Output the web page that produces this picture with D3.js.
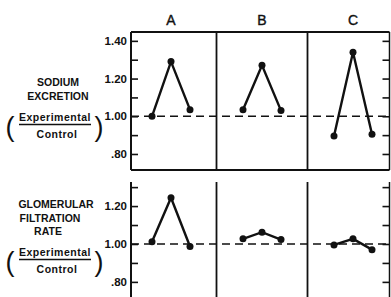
<!DOCTYPE html>
<html>
<head>
  <meta charset="UTF-8">
  <style>
    body { margin: 0; background: #fff; }
    svg { display: block; }
    text { font-family: "Liberation Sans", Arial, sans-serif; fill: #111; }
  </style>
</head>
<body>
<svg width="391" height="297"></svg>
<script src="https://cdnjs.cloudflare.com/ajax/libs/d3/7.8.5/d3.min.js"></script>
<script>
// groups across the top, three periods inside each group
let groups = ["A", "B", "C"];
let periods = ["control", "experimental", "recovery"];

// ratios experimental / control, one row per group
let sodium = [
  [1.00, 1.29, 1.035],
  [1.035, 1.27, 1.03],
  [0.895, 1.34, 0.905]
];
let gfr = [
  [1.012, 1.244, 0.987],
  [1.027, 1.062, 1.023],
  [0.995, 1.027, 0.97]
];

let tickValues = [0.8, 0.9, 1.0, 1.1, 1.2, 1.3, 1.4];
let tickLabels = {"0.8": ".80", "1": "1.00", "1.2": "1.20", "1.4": "1.40"};

let svg = d3.select("svg");
let left = 131, right = 389.5;

// groups are spaced evenly by their middle point
let xGroup = d3.scaleBand().domain(groups).range([125.5, 398.5]).padding(0);
let xPeriod = d3.scalePoint().domain(periods).range([-19, 19]);

let panels = [
  {data: sodium, y: d3.scaleLinear().domain([0.715, 1.447]).range([170, 32]), box: true,
   title: ["SODIUM", "EXCRETION"], titleY: [86, 100], titleX: [58, 58], fracY: 121},
  {data: gfr, y: d3.scaleLinear().domain([0.715, 1.327]).range([298, 182]), box: false,
   title: ["GLOMERULAR", "FILTRATION", "RATE"], titleY: [208, 222, 235], titleX: [56, 50, 48], fracY: 256}
];

// column headers
svg.selectAll(".head")
  .data(groups)
  .enter()
  .append("text")
  .attr("x", d => xGroup(d) + xGroup.bandwidth() / 2)
  .attr("y", 24.5)
  .attr("text-anchor", "middle")
  .style("font-size", "14px")
  .style("stroke", "#111").style("stroke-width", 0.4)
  .text(d => d);

panels.forEach(p => {
  let y = p.y;
  let top = y.range()[1], bottom = y.range()[0];
  let ticks = tickValues.filter(v => v >= y.domain()[0] && v <= y.domain()[1]);
  let g = svg.append("g");

  // frame
  g.append("line").attr("x1", left).attr("x2", left).attr("y1", top).attr("y2", bottom)
    .attr("stroke", "#111").attr("stroke-width", 2);
  g.append("line").attr("x1", right).attr("x2", right).attr("y1", top).attr("y2", bottom)
    .attr("stroke", "#111").attr("stroke-width", 1.5);
  if (p.box) {
    g.append("line").attr("x1", left).attr("x2", right).attr("y1", top).attr("y2", top)
      .attr("stroke", "#111").attr("stroke-width", 2);
    g.append("line").attr("x1", left).attr("x2", right).attr("y1", bottom).attr("y2", bottom)
      .attr("stroke", "#111").attr("stroke-width", 2);
  }

  // dividers between groups
  g.selectAll(".div")
    .data(groups.slice(1))
    .enter()
    .append("line")
    .attr("x1", d => xGroup(d)).attr("x2", d => xGroup(d))
    .attr("y1", top).attr("y2", bottom)
    .attr("stroke", "#111").attr("stroke-width", 1.8);

  // left axis
  let yAxisL = d3.axisRight(y).tickValues(ticks).tickSize(7)
    .tickFormat(d => tickLabels[String(+d.toFixed(1))] || "");
  let ga = g.append("g").attr("transform", "translate(" + left + ",0)").call(yAxisL);
  ga.select(".domain").remove();
  ga.selectAll(".tick line").attr("stroke", "#111").attr("stroke-width", 1.6);
  ga.selectAll(".tick text")
    .attr("x", -4).attr("text-anchor", "end")
    .style("font-family", "'Liberation Sans', Arial, sans-serif")
    .style("font-size", "11.5px").style("font-weight", "bold")
    .attr("fill", "#111");

  // right axis
  let yAxisR = d3.axisLeft(y).tickValues(ticks).tickSize(7).tickFormat("");
  let gr = g.append("g").attr("transform", "translate(" + right + ",0)").call(yAxisR);
  gr.select(".domain").remove();
  gr.selectAll(".tick line").attr("stroke", "#111").attr("stroke-width", 1.6);

  // reference line at 1.00
  g.append("line")
    .attr("x1", left).attr("x2", right)
    .attr("y1", y(1)).attr("y2", y(1))
    .attr("stroke", "#111").attr("stroke-width", 1.6)
    .attr("stroke-dasharray", "8,5");

  // data
  let line = d3.line()
    .x((d, i) => xPeriod(periods[i]))
    .y(d => y(d));

  let grp = g.selectAll(".grp")
    .data(p.data)
    .enter()
    .append("g")
    .attr("transform", (d, i) => "translate(" + (xGroup(groups[i]) + xGroup.bandwidth() / 2) + ",0)");

  grp.append("path")
    .attr("d", d => line(d))
    .attr("fill", "none")
    .attr("stroke", "#111")
    .attr("stroke-width", 2.4);

  grp.selectAll("circle")
    .data(d => d)
    .enter()
    .append("circle")
    .attr("cx", (d, i) => xPeriod(periods[i]))
    .attr("cy", d => y(d))
    .attr("r", 3.5)
    .attr("fill", "#111");

  // row title
  p.title.forEach((t, i) => {
    svg.append("text")
      .attr("x", p.titleX[i]).attr("y", p.titleY[i])
      .attr("text-anchor", "middle")
      .style("font-size", "10.5px").style("font-weight", "bold")
      .text(t);
  });

  // (Experimental / Control)
  let fy = p.fracY;
  svg.append("text").attr("x", 55).attr("y", fy).attr("text-anchor", "middle")
    .style("font-size", "10.5px").style("font-weight", "bold").style("letter-spacing", "0.5px")
    .text("Experimental");
  svg.append("line").attr("x1", 19).attr("x2", 91).attr("y1", fy + 3.5).attr("y2", fy + 3.5)
    .attr("stroke", "#111").attr("stroke-width", 1.3);
  svg.append("text").attr("x", 57).attr("y", fy + 17).attr("text-anchor", "middle")
    .style("font-size", "10.5px").style("font-weight", "bold").style("letter-spacing", "0.5px")
    .text("Control");
  svg.append("text").attr("x", 10).attr("y", fy + 15).attr("text-anchor", "middle")
    .style("font-size", "27px").text("(");
  svg.append("text").attr("x", 99).attr("y", fy + 15).attr("text-anchor", "middle")
    .style("font-size", "27px").text(")");
});
</script>
</body>
</html>
